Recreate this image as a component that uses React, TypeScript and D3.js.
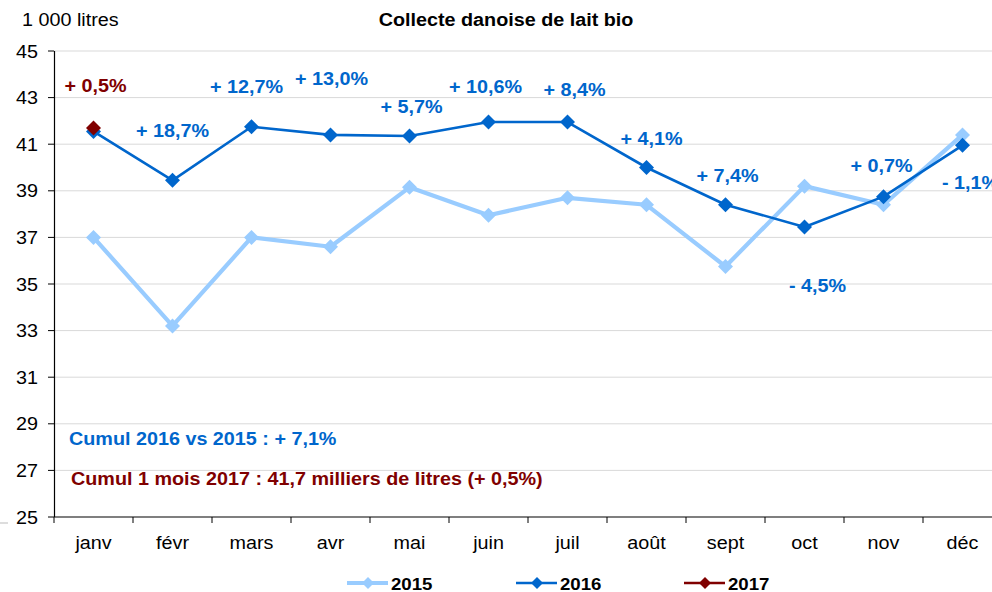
import React from "react";
import * as d3 from "d3";

const months = ["janv", "févr", "mars", "avr", "mai", "juin", "juil", "août", "sept", "oct", "nov", "déc"];
const values2015 = [37.0, 33.2, 37.0, 36.6, 39.15, 37.95, 38.7, 38.4, 35.75, 39.2, 38.4, 41.4];
const values2016 = [41.55, 39.45, 41.75, 41.4, 41.35, 41.95, 41.95, 40.0, 38.4, 37.45, 38.75, 40.95];
const values2017 = [41.7];
const yTicks = [25, 27, 29, 31, 33, 35, 37, 39, 41, 43, 45];
const labels2016 = ["", "+ 18,7%", "+ 12,7%", "+ 13,0%", "+ 5,7%", "+ 10,6%", "+ 8,4%", "+ 4,1%", "+ 7,4%", "- 4,5%", "+ 0,7%", "- 1,1%"];
const labels2017 = ["+ 0,5%"];
const title = "Collecte danoise de lait bio";
const unitLabel = "1 000 litres";
const cumul2016 = "Cumul 2016 vs 2015 : + 7,1%";
const cumul2017 = "Cumul 1 mois 2017 : 41,7 milliers de litres (+ 0,5%)";
const legendNames = ["2015", "2016", "2017"];

// layout offsets for labels (dx, dy from the point)
const off2016: [number, number][] = [[0, 0], [0, -43], [-5, -34], [1, -50], [2, -23], [-3, -29], [7, -26], [5, -23], [2, -23], [13, 65], [-2, -25], [8, 44]];
const off2017: [number, number][] = [[2, -36]];

const C15 = "#99CCFF";
const C16 = "#0066CC";
const C17 = "#800000";
const FONT = "'Liberation Sans', Arial, sans-serif";
const SX = 1.13;
const FS = 17.5;

function T(props: { x: number; y: number; anchor?: string; size: number; bold?: boolean; fill?: string; children: React.ReactNode }) {
  const { x, y, anchor = "start", size, bold, fill = "#000", children } = props;
  return (
    <text
      transform={`translate(${x},${y}) scale(${SX},1)`}
      textAnchor={anchor}
      fontFamily={FONT}
      fontSize={size}
      fontWeight={bold ? "bold" : "normal"}
      fill={fill}
    >
      {children}
    </text>
  );
}

function Diamond({ x, y, r, fill }: { x: number; y: number; r: number; fill: string }) {
  return <path d={`M${x},${y - r}L${x + r},${y}L${x},${y + r}L${x - r},${y}Z`} fill={fill} />;
}

export default function App() {
  const W = 992, H = 592;
  const x = d3.scaleBand<string>().domain(months).range([54, 1002]).paddingInner(0).paddingOuter(0);
  const cx = (m: string) => (x(m) as number) + x.bandwidth() / 2;
  const y = d3.scaleLinear().domain([25, 45]).range([517, 51]);
  const line = d3.line<number>().x((_, i) => cx(months[i])).y((v) => y(v));

  const legendX = [347, 516, 684];
  const legendColors = [C15, C16, C17];
  const legendWidths = [4, 2.5, 2.5];
  const legendR = [6, 6, 6];

  return (
    <svg width={W} height={H} style={{ position: "absolute", left: 0, top: 0, background: "#fff" }}>
      <rect width={W} height={H} fill="#fff" />
      {/* gridlines */}
      {yTicks.slice(1).map((t) => (
        <line key={t} x1={54} x2={W} y1={y(t)} y2={y(t)} stroke="#d9d9d9" strokeWidth={1} />
      ))}
      {/* y axis */}
      <line x1={54.5} x2={54.5} y1={y(45)} y2={y(25)} stroke="#000" strokeWidth={1.2} />
      {yTicks.map((t) => (
        <g key={t}>
          <line x1={48} x2={54} y1={y(t)} y2={y(t)} stroke="#000" strokeWidth={1} />
          <T x={38} y={y(t) + 6.5} anchor="end" size={FS}>{t}</T>
        </g>
      ))}
      {/* x axis */}
      <line x1={54} x2={W} y1={y(25)} y2={y(25)} stroke="#000" strokeWidth={1.2} />
      {months.map((m) => (
        <line key={"t" + m} x1={x(m) as number} x2={x(m) as number} y1={517} y2={523} stroke="#000" strokeWidth={1} />
      ))}
      <line x1={0} x2={8} y1={523} y2={523} stroke="#bbb" strokeWidth={1} />
      {months.map((m) => (
        <T key={"l" + m} x={cx(m)} y={549} anchor="middle" size={FS}>{m}</T>
      ))}
      {/* titles */}
      <T x={22} y={26} size={FS}>{unitLabel}</T>
      <T x={506} y={26} anchor="middle" size={FS} bold>{title}</T>
      {/* series 2015 */}
      <path d={line(values2015) as string} fill="none" stroke={C15} strokeWidth={4.2} strokeLinejoin="round" />
      {values2015.map((v, i) => (
        <Diamond key={"a" + i} x={cx(months[i])} y={y(v)} r={7.5} fill={C15} />
      ))}
      {/* series 2016 */}
      <path d={line(values2016) as string} fill="none" stroke={C16} strokeWidth={2.6} strokeLinejoin="round" />
      {values2016.map((v, i) => (
        <Diamond key={"b" + i} x={cx(months[i])} y={y(v)} r={7.5} fill={C16} />
      ))}
      {/* series 2017 */}
      {values2017.map((v, i) => (
        <Diamond key={"c" + i} x={cx(months[i])} y={y(v)} r={7.5} fill={C17} />
      ))}
      {/* labels */}
      {labels2016.map((l, i) =>
        l ? (
          <T key={"lb" + i} x={cx(months[i]) + off2016[i][0]} y={y(values2016[i]) + off2016[i][1]} anchor="middle" size={FS} bold fill={C16}>
            {l}
          </T>
        ) : null
      )}
      {labels2017.map((l, i) => (
        <T key={"lc" + i} x={cx(months[i]) + off2017[i][0]} y={y(values2017[i]) + off2017[i][1]} anchor="middle" size={FS} bold fill={C17}>
          {l}
        </T>
      ))}
      <T x={69} y={445} size={FS} bold fill={C16}>{cumul2016}</T>
      <T x={71} y={485} size={FS} bold fill={C17}>{cumul2017}</T>
      {/* legend */}
      {legendNames.map((n, i) => (
        <g key={n}>
          <line x1={legendX[i]} x2={legendX[i] + 41} y1={583} y2={583} stroke={legendColors[i]} strokeWidth={legendWidths[i]} />
          <Diamond x={legendX[i] + 21} y={583} r={legendR[i]} fill={legendColors[i]} />
          <T x={legendX[i] + 44} y={589.5} size={16.5} bold>{n}</T>
        </g>
      ))}
    </svg>
  );
}
